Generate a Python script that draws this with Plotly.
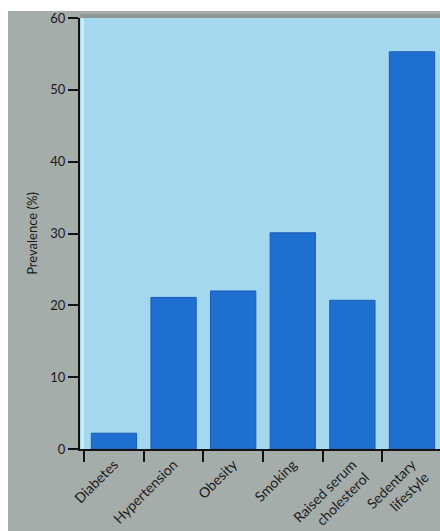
import plotly.graph_objects as go

categories = ["Diabetes", "Hypertension", "Obesity", "Smoking",
              "Raised serum<br>cholesterol", "Sedentary<br>lifestyle"]
prevalence = [2.2, 21.1, 22.0, 30.1, 20.7, 55.3]
y_ticks = [0, 10, 20, 30, 40, 50, 60]

W, H = 440, 531
L, R, T, B = 80, 0, 18, 82
pw, ph = W - L - R, H - T - B

fig = go.Figure(go.Bar(
    x=categories, y=prevalence, width=0.76,
    marker=dict(color="#1f6fd0", line=dict(color="#1a5cb5", width=1)),
))

font = dict(family="Lato, 'Open Sans', sans-serif", size=13, color="#1a1a1a")
xfont = dict(family="Lato, 'Open Sans', sans-serif", size=14, color="#1a1a1a")

fig.update_layout(
    width=W, height=H,
    margin=dict(l=L, r=R, t=T, b=B, pad=0, autoexpand=False),
    paper_bgcolor="#a5adab",
    plot_bgcolor="#a3d8ef",
    font=font,
    showlegend=False,
    xaxis=dict(
        range=[-0.57, 5.47], showgrid=False, zeroline=False, automargin=False,
        showline=True, linecolor="#111", linewidth=2,
        ticks="outside", ticklen=11, tickcolor="#111", tickwidth=1.5,
        tickson="boundaries", tickangle=-45, tickfont=xfont,
    ),
    yaxis=dict(
        range=[0, 60], tickvals=y_ticks, showgrid=False, zeroline=False,
        automargin=False,
        showline=True, linecolor="#111", linewidth=2,
        ticks="outside", ticklen=10, tickcolor="#111", tickwidth=1.5,
        tickfont=font,
        title=dict(text="Prevalence (%)", font=font, standoff=10),
    ),
    shapes=[
        # white top strip
        dict(type="rect", xref="paper", yref="paper",
             x0=-L / pw - 0.05, x1=1.05, y0=1 + 7 / ph, y1=1 + (T + 5) / ph,
             fillcolor="white", line=dict(width=0), layer="above"),
        # darker top band
        dict(type="rect", xref="paper", yref="paper",
             x0=0, x1=1.05, y0=1, y1=1 + 4 / ph,
             fillcolor="#8f9796", line=dict(width=0), layer="above"),
        # white left strip
        dict(type="rect", xref="paper", yref="paper",
             x0=-L / pw - 0.05, x1=-72 / pw, y0=-B / ph - 0.05, y1=1 + (T + 5) / ph,
             fillcolor="white", line=dict(width=0), layer="above"),
        # pale strip beside y axis
        dict(type="rect", xref="paper", yref="paper",
             x0=1 / pw, x1=4 / pw, y0=0, y1=1,
             fillcolor="#cfe9f3", line=dict(width=0), layer="below"),
    ],
)

fig.write_html("out.html")
